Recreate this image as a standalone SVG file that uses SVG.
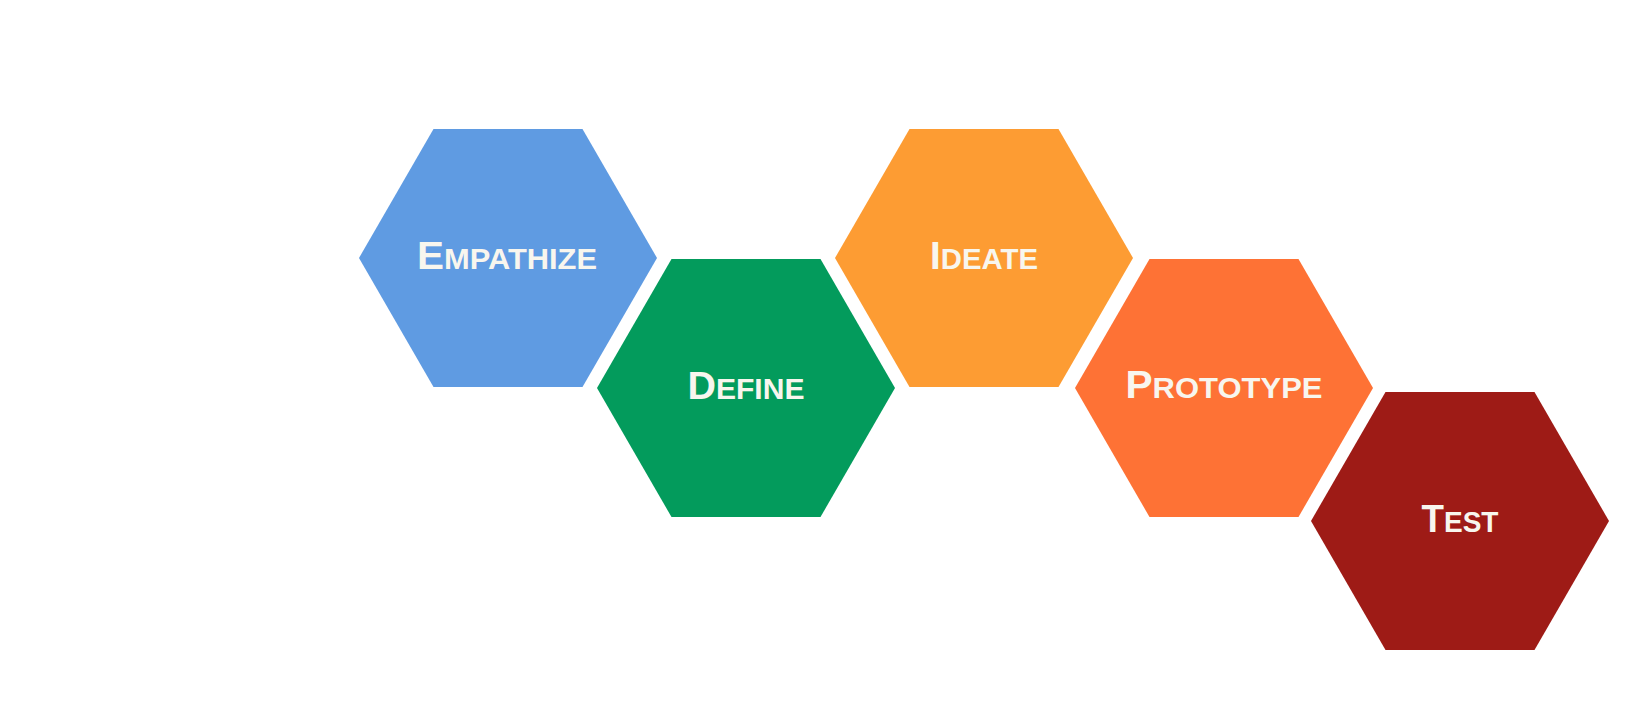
<svg xmlns="http://www.w3.org/2000/svg" xmlns:xlink="http://www.w3.org/1999/xlink" width="1648" height="704" viewBox="0 0 1648 704">
  <style>
    .lbl { font-family: "Liberation Sans", Arial, sans-serif; font-weight: bold; font-size: 38px; font-variant: small-caps; fill: #F8F6EE; text-anchor: middle; }
    .sc { font-size: 42px; }
  </style>
  <defs>
    <polygon id="hex" points="-149,0 -74.5,-129 74.5,-129 149,0 74.5,129 -74.5,129"/>
  </defs>
  <rect width="1648" height="704" fill="#FFFFFF"/>
  <g id="empathize">
    <use xlink:href="#hex" href="#hex" x="508" y="258" fill="#5F9BE2"/>
    <text class="lbl" x="507" y="269" textLength="180" lengthAdjust="spacingAndGlyphs">E<tspan class="sc">mpathize</tspan></text>
  </g>
  <g id="define">
    <use xlink:href="#hex" href="#hex" x="746" y="388" fill="#039B5C"/>
    <text class="lbl" x="746" y="399" textLength="117" lengthAdjust="spacingAndGlyphs">D<tspan class="sc">efine</tspan></text>
  </g>
  <g id="ideate">
    <use xlink:href="#hex" href="#hex" x="984" y="258" fill="#FD9C33"/>
    <text class="lbl" x="984" y="269" textLength="108" lengthAdjust="spacingAndGlyphs">I<tspan class="sc">deate</tspan></text>
  </g>
  <g id="prototype">
    <use xlink:href="#hex" href="#hex" x="1224" y="388" fill="#FE7235"/>
    <text class="lbl" x="1224" y="398" textLength="197" lengthAdjust="spacingAndGlyphs">P<tspan class="sc">rototype</tspan></text>
  </g>
  <g id="test">
    <use xlink:href="#hex" href="#hex" x="1460" y="521" fill="#9E1B16"/>
    <text class="lbl" x="1460" y="532" textLength="77" lengthAdjust="spacingAndGlyphs">T<tspan class="sc">est</tspan></text>
  </g>
</svg>
